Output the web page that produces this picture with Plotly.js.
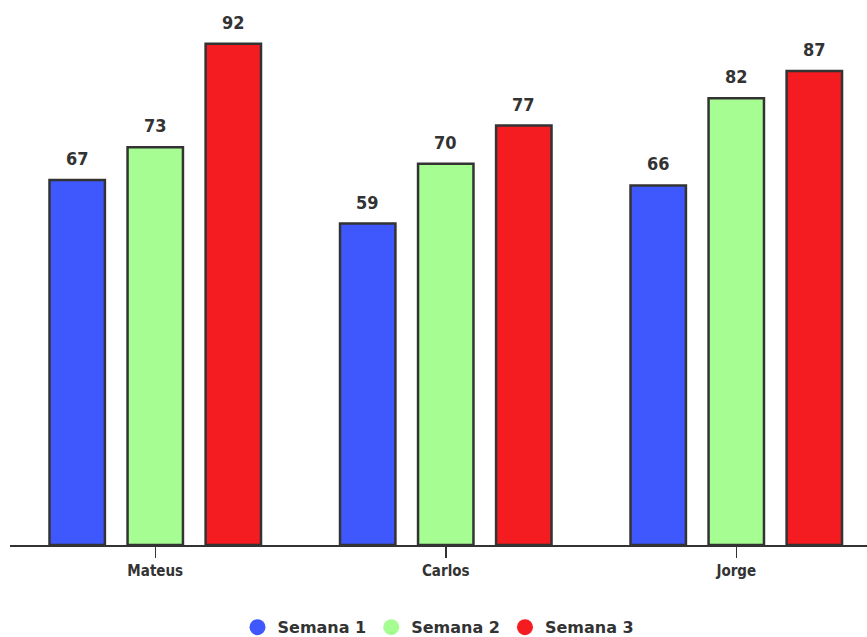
<!DOCTYPE html>
<html>
<head>
<meta charset="utf-8">
<script src="https://cdn.plot.ly/plotly-3.0.1.min.js"></script>
<style>
  html, body { margin: 0; padding: 0; background: #fff; }
  #chart { width: 867px; height: 637px; }
</style>
</head>
<body>
<div id="chart"></div>
<script>
// Weekly scores per person
const people = ["Mateus", "Carlos", "Jorge"];
const seriesNames = ["Semana 1", "Semana 2", "Semana 3"];
const semana1 = [67, 59, 66];
const semana2 = [73, 70, 82];
const semana3 = [92, 77, 87];
const seriesColors = ["#3f58fd", "#a6fd92", "#f41b21"];

const values = [semana1, semana2, semana3];
const narrow = "Liberation Sans Narrow, DejaVu Sans Condensed, Arial Narrow, sans-serif";
const labelFont = { family: narrow, size: 18, color: "#333333", weight: "bold" };

const bargap = 0.194;
const bargroupgap = 0.29;
// width of one bar slot inside a category, in category units
const slot = (1 - bargap) / values.length;

const traces = [];
values.forEach((vals, i) => {
  traces.push({
    type: "bar",
    name: seriesNames[i],
    x: people,
    y: vals,
    marker: { color: seriesColors[i], line: { color: "#333333", width: 2.5 } },
    showlegend: false,
    hoverinfo: "x+y+name"
  });
});
// legend entries drawn as round markers
seriesNames.forEach((n, i) => {
  traces.push({
    type: "scatter",
    mode: "markers",
    name: n,
    x: [null],
    y: [null],
    marker: { color: seriesColors[i], size: 16, symbol: "circle" },
    showlegend: true,
    hoverinfo: "skip"
  });
});

// value labels above each bar
const annotations = [];
values.forEach((vals, i) => {
  vals.forEach((v, j) => {
    annotations.push({
      x: j + (i - (values.length - 1) / 2) * slot,
      y: v,
      xref: "x",
      yref: "y",
      text: String(v),
      showarrow: false,
      yanchor: "bottom",
      yshift: 9,
      font: labelFont
    });
  });
});

const layout = {
  width: 867,
  height: 637,
  margin: { l: 10, r: 0, t: 10, b: 92, autoexpand: false },
  paper_bgcolor: "#ffffff",
  plot_bgcolor: "#ffffff",
  barmode: "group",
  bargap: bargap,
  bargroupgap: bargroupgap,
  showlegend: true,
  annotations: annotations,
  legend: {
    orientation: "h",
    x: 0.5,
    xanchor: "center",
    y: -0.122,
    yanchor: "top",
    font: { family: "DejaVu Sans, sans-serif", size: 16, color: "#333333", weight: "bold" },
    itemwidth: 30,
    tracegroupgap: 0
  },
  xaxis: {
    type: "category",
    range: [-0.5, 2.45],
    showline: true,
    linecolor: "#333333",
    linewidth: 1.5,
    ticks: "outside",
    ticklen: 11,
    tickwidth: 1.5,
    tickcolor: "#333333",
    showgrid: false,
    zeroline: false,
    tickfont: { family: narrow, size: 15, color: "#333333", weight: "bold" },
    fixedrange: true
  },
  yaxis: {
    range: [0, 98.2],
    visible: false,
    showgrid: false,
    zeroline: false,
    fixedrange: true
  }
};

Plotly.newPlot("chart", traces, layout, { displayModeBar: false, staticPlot: true });
</script>
</body>
</html>
